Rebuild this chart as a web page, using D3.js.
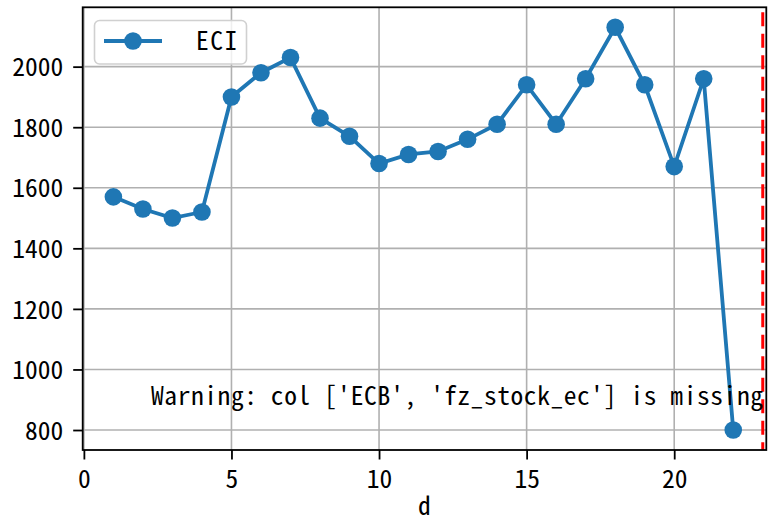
<!DOCTYPE html>
<html><head><meta charset="utf-8">
<script src="https://cdn.jsdelivr.net/npm/d3@7"></script>
<style>
body{margin:0;background:#fff;}
text{font-family:"Noto Sans CJK SC",sans-serif;font-feature-settings:"hwid";}
</style></head>
<body>
<svg id="c" width="778" height="523"></svg>
<script>
const days = [1,2,3,4,5,6,7,8,9,10,11,12,13,14,15,16,17,18,19,20,21,22];
const eci = [1570,1530,1500,1520,1900,1980,2030,1830,1770,1680,1710,1720,1760,1810,1940,1810,1960,2130,1940,1670,1960,800];
const xTicks = [0,5,10,15,20];
const yTicks = [800,1000,1200,1400,1600,1800,2000];
const markerX = 23;
const seriesName = "ECI";
const xLabel = "d";
const warning = "Warning: col ['ECB', 'fz_stock_ec'] is missing";

const svg = d3.select("#c");
const L = 82.7, R = 766.3, T = 7.3, B = 450;
const x = d3.scaleLinear().domain([-0.04, 23.12]).range([L, R]);
const y = d3.scaleLinear().domain([734, 2196]).range([B, T]);
const fsNum = 25.5;
const fs = fsNum + "px";
const ff = '"Noto Sans CJK SC", sans-serif';
const charW = fsNum / 2;

function styleText(sel) {
  sel.style("font-size", fs).style("font-family", ff)
     .style("font-feature-settings", '"hwid"').attr("fill", "#000");
}

// grid
svg.append("g").selectAll("line").data(xTicks).join("line")
  .attr("x1", d=>x(d)).attr("x2", d=>x(d)).attr("y1", T).attr("y2", B)
  .attr("stroke", "#b0b0b0").attr("stroke-width", 1.6);
svg.append("g").selectAll("line").data(yTicks).join("line")
  .attr("y1", d=>y(d)).attr("y2", d=>y(d)).attr("x1", L).attr("x2", R)
  .attr("stroke", "#b0b0b0").attr("stroke-width", 1.6);

// axes
const xa = svg.append("g").attr("transform", `translate(0,${B})`)
  .call(d3.axisBottom(x).tickValues(xTicks).tickSize(9.5).tickPadding(10).tickFormat(d3.format("d")));
const ya = svg.append("g").attr("transform", `translate(${L},0)`)
  .call(d3.axisLeft(y).tickValues(yTicks).tickSize(9.5).tickPadding(10).tickFormat(d3.format("d")));
[xa, ya].forEach(a => {
  a.select(".domain").remove();
  a.selectAll("line").attr("stroke", "#000").attr("stroke-width", 1.8);
  styleText(a.selectAll("text"));
});
ya.selectAll("text").attr("dy", "0.36em");

// red dashed
svg.append("line").attr("x1", x(markerX)).attr("x2", x(markerX)).attr("y1", T + 5).attr("y2", B)
  .attr("stroke", "red").attr("stroke-width", 3).attr("stroke-dasharray", "14,7.5");

// line + markers
const pts = days.map((d,i)=>[d, eci[i]]);
svg.append("path").datum(pts)
  .attr("d", d3.line().x(d=>x(d[0])).y(d=>y(d[1])))
  .attr("fill", "none").attr("stroke", "#1f77b4").attr("stroke-width", 3.8);
svg.append("g").selectAll("circle").data(pts).join("circle")
  .attr("cx", d=>x(d[0])).attr("cy", d=>y(d[1])).attr("r", 8.8).attr("fill", "#1f77b4");

// warning text: emulate fixed-width spacing via letter-spacing
const wt = svg.append("text").attr("x", 151).attr("y", 405).text(warning);
styleText(wt);
const target = 612;
const actual = wt.node().getComputedTextLength();
const ls = Math.max(0, (target - actual) / (warning.length - 1));
wt.style("letter-spacing", ls + "px");

// frame
svg.append("rect").attr("x", L).attr("y", T).attr("width", R-L).attr("height", B-T)
  .attr("fill", "none").attr("stroke", "#000").attr("stroke-width", 1.8);

// legend
const lg = svg.append("g");
lg.append("rect").attr("x", 94.5).attr("y", 20.5).attr("width", 152).attr("height", 43.5).attr("rx", 5)
  .attr("fill", "#fff").attr("fill-opacity", 0.8).attr("stroke", "#d0d0d0").attr("stroke-width", 1.6);
lg.append("line").attr("x1", 104).attr("x2", 162).attr("y1", 41).attr("y2", 41)
  .attr("stroke", "#1f77b4").attr("stroke-width", 3.8);
lg.append("circle").attr("cx", 133).attr("cy", 41).attr("r", 8.8).attr("fill", "#1f77b4");
const lt = lg.append("text").attr("x", 196).attr("y", 50).text(seriesName);
styleText(lt);
lt.style("letter-spacing", "1.5px");

// x label
const xl = svg.append("text").attr("x", (L+R)/2).attr("y", 515).attr("text-anchor", "middle").text(xLabel);
styleText(xl);
</script>
</body></html>
